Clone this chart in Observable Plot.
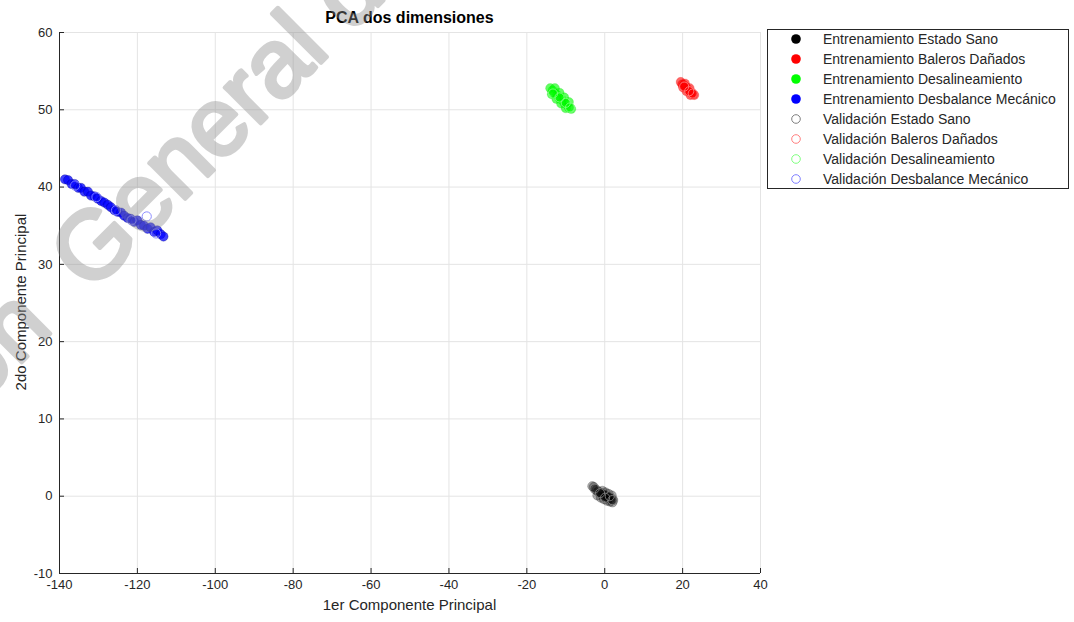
<!DOCTYPE html>
<html>
<head>
<meta charset="utf-8">
<script src="https://cdn.jsdelivr.net/npm/d3@7"></script>
<script src="https://cdn.jsdelivr.net/npm/@observablehq/plot@0.6"></script>
<style>
  body { margin: 0; background: #fff; font-family: "Liberation Sans", Arial, Helvetica, sans-serif; }
  #wrap { position: relative; width: 1074px; height: 622px; overflow: hidden; background: #fff; }
  #chart { position: absolute; left: 0; top: 0; }
  #title { position: absolute; left: 59px; width: 701px; top: 10px; text-align: center; font-weight: bold; font-size: 16px; line-height: 16px; color: #000; }
  #xlabel { position: absolute; left: 59px; width: 701px; top: 597px; text-align: center; font-size: 15px; line-height: 16px; color: #262626; }
  #ylabel { position: absolute; left: 21px; top: 302px; width: 300px; margin-left: -150px; margin-top: -8px; text-align: center; font-size: 15px; line-height: 16px; color: #262626; transform: rotate(-90deg); }
  #legend { position: absolute; left: 767px; top: 29px; width: 302px; height: 160px; box-sizing: border-box; border: 1px solid #262626; background: #fff; }
  .row { position: absolute; left: 0; height: 20px; width: 300px; }
  .row svg { position: absolute; left: 22px; top: 4px; }
  .row span { position: absolute; left: 55px; top: 0; line-height: 20px; font-size: 14px; color: #262626; white-space: nowrap; }
  #wm { position: absolute; left: 0; top: 0; pointer-events: none; }
</style>
</head>
<body>
<div id="wrap">
  <div id="chart"></div>
  <div id="title"></div>
  <div id="xlabel"></div>
  <div id="ylabel"></div>
  <div id="legend"></div>
  <svg id="wm" width="1074" height="622"></svg>
</div>
<script>
// ---- tick values ----
const xTicks = [-140, -120, -100, -80, -60, -40, -20, 0, 20, 40];
const yTicks = [-10, 0, 10, 20, 30, 40, 50, 60];

// ---- labels ----
const titleText = "PCA dos dimensiones";
const xLabelText = "1er Componente Principal";
const yLabelText = "2do Componente Principal";
const seriesNames = [
  "Entrenamiento Estado Sano",
  "Entrenamiento Baleros Dañados",
  "Entrenamiento Desalineamiento",
  "Entrenamiento Desbalance Mecánico",
  "Validación Estado Sano",
  "Validación Baleros Dañados",
  "Validación Desalineamiento",
  "Validación Desbalance Mecánico"
];
const watermarkBefore = "Dirección";
const watermarkAfter = "General de Bibliotecas";

// ---- series values ----
const trainSanoX = [-3.2, -2.8, -2.5, -2.1, -1.7, -1.3, -0.9, -0.5, -0.1, 0.3, 0.7, 1.1, 1.5, 1.9, 2.2, -1.9, -1.0, -0.2, 0.6, 1.4, 2.0, -0.6, 0.2, 1.0, 1.8];
const trainSanoY = [1.3, 1.2, 0.9, 0.8, 0.6, 0.5, 0.3, 0.2, 0.1, 0.0, -0.1, -0.2, -0.3, -0.4, -0.5, 0.1, -0.2, -0.4, -0.6, -0.7, -0.8, 0.7, 0.5, 0.3, 0.1];

const trainBalerosX = [19.5, 19.9, 20.3, 20.7, 21.1, 21.5, 21.9, 22.3, 22.7, 23.0, 20.1, 21.0, 22.0, 20.6, 21.8];
const trainBalerosY = [53.6, 53.3, 53.2, 52.9, 52.8, 52.5, 52.3, 52.2, 52.0, 51.9, 52.9, 52.4, 51.9, 53.4, 52.8];

const trainDesalX = [-14.0, -13.4, -12.8, -12.2, -11.6, -11.0, -10.4, -9.8, -9.2, -8.6, -12.8, -11.6, -10.4, -9.2, -13.6, -12.4, -11.2, -10.0];
const trainDesalY = [52.8, 52.5, 52.1, 51.9, 51.5, 51.3, 50.9, 50.7, 50.3, 50.1, 52.8, 52.2, 51.6, 51.0, 52.0, 51.4, 50.8, 50.2];

const trainDesbX = [-138.6, -137.8, -136.9, -136.1, -135.2, -134.5, -133.6, -132.7, -131.9, -131.0, -130.2, -129.3, -128.5, -127.6, -126.8, -125.9, -125.1, -124.2, -123.4, -122.5, -121.7, -120.8, -120.0, -119.1, -118.3, -117.4, -116.6, -115.7, -114.9, -114.0, -113.3];
const trainDesbY = [41.0, 40.9, 40.4, 40.4, 39.9, 39.9, 39.4, 39.4, 38.9, 38.8, 38.5, 38.2, 38.0, 37.7, 37.4, 37.0, 36.8, 36.7, 36.3, 36.0, 35.9, 35.5, 35.7, 35.1, 35.0, 34.6, 34.8, 34.2, 34.4, 33.9, 33.6];

const valSanoX = [-2.6, -1.2, 0.1, 1.3, 2.0];
const valSanoY = [1.0, 0.4, -0.2, 0.0, -0.5];

const valBalerosX = [20.4, 21.7, 22.6];
const valBalerosY = [53.0, 52.4, 52.1];

const valDesalX = [-13.3, -11.6, -10.0, -8.9];
const valDesalY = [52.1, 51.6, 50.9, 50.3];

const valDesbX = [-136.0, -130.5, -125.5, -121.5, -117.6, -115.2];
const valDesbY = [40.2, 38.7, 37.0, 35.7, 36.2, 34.0];

// ---- colours ----
const trainColors = ["#000000", "#ff0000", "#00ff00", "#0000ff"];
const trainEdges = ["#000000", "#e00000", "#00c000", "#000080"];
const trainAlpha = [0.32, 0.6, 0.62, 0.75];
const trainEdgeAlpha = [0.3, 0.25, 0.25, 0.45];
const valColors = ["#808080", "#ff8080", "#80ff80", "#8080ff"];

const seriesX = [trainSanoX, trainBalerosX, trainDesalX, trainDesbX, valSanoX, valBalerosX, valDesalX, valDesbX];
const seriesY = [trainSanoY, trainBalerosY, trainDesalY, trainDesbY, valSanoY, valBalerosY, valDesalY, valDesbY];

const rowsFor = (k) => seriesX[k].map((x, i) => ({x, y: seriesY[k][i], s: seriesNames[k]}));

const marks = [
  Plot.gridX(xTicks, {stroke: "#e4e4e4", strokeOpacity: 1}),
  Plot.gridY(yTicks, {stroke: "#e4e4e4", strokeOpacity: 1})
];
for (let k = 0; k < 4; k++) {
  marks.push(Plot.dot(rowsFor(k), {x: "x", y: "y", r: 4.6, fill: trainColors[k], fillOpacity: trainAlpha[k], stroke: trainEdges[k], strokeOpacity: trainEdgeAlpha[k], strokeWidth: 0.7}));
}
for (let k = 0; k < 4; k++) {
  marks.push(Plot.dot(rowsFor(k + 4), {x: "x", y: "y", r: 4.6, fill: "none", stroke: valColors[k], strokeWidth: 0.9}));
}
marks.push(
  Plot.ruleX([xTicks[0]], {stroke: "#262626", strokeWidth: 1}),
  Plot.ruleY([yTicks[0]], {stroke: "#262626", strokeWidth: 1}),
  Plot.ruleX(xTicks, {y1: yTicks[0], y2: yTicks[0], insetTop: -5, stroke: "#262626"}),
  Plot.ruleY(yTicks, {x1: xTicks[0], x2: xTicks[0], insetRight: -5, stroke: "#262626"}),
  Plot.axisX({ticks: xTicks, tickSize: 0, tickPadding: 6, tickFormat: (d) => String(d), fontSize: 13, color: "#262626", label: null}),
  Plot.axisY({ticks: yTicks, tickSize: 0, tickPadding: 7, tickFormat: (d) => String(d), fontSize: 13, color: "#262626", label: null})
);

const chart = Plot.plot({
  width: 1074,
  height: 622,
  marginLeft: 59,
  marginRight: 314,
  marginTop: 32,
  marginBottom: 49,
  x: {domain: [xTicks[0], xTicks[xTicks.length - 1]]},
  y: {domain: [yTicks[0], yTicks[yTicks.length - 1]]},
  style: {fontFamily: "Liberation Sans, Arial, sans-serif", background: "transparent", overflow: "visible"},
  marks
});
document.getElementById("chart").appendChild(chart);

document.getElementById("title").textContent = titleText;
document.getElementById("xlabel").textContent = xLabelText;
document.getElementById("ylabel").textContent = yLabelText;

// ---- legend ----
const legend = document.getElementById("legend");
seriesNames.forEach((name, i) => {
  const row = document.createElement("div");
  row.className = "row";
  row.style.top = (-1.5 + 20 * i) + "px";
  const train = i < 4;
  const c = train ? trainColors[i] : valColors[i - 4];
  row.innerHTML = `<svg width="12" height="12"><circle cx="6" cy="6" r="${train ? 4.8 : 4.3}" fill="${train ? c : "none"}" stroke="${c}" stroke-width="${train ? 0 : 1}"/></svg><span></span>`;
  row.querySelector("span").textContent = name;
  legend.appendChild(row);
});

// ---- watermark ----
const wm = d3.select("#wm");
const g = wm.append("g").attr("transform", "translate(90,294) rotate(-45)")
  .attr("fill", "#8c8c8c").attr("stroke", "#8c8c8c").attr("stroke-width", 4).attr("stroke-linejoin", "round")
  .attr("opacity", 0.4)
  .style("font-family", "Liberation Sans, Arial, sans-serif").style("font-size", "96px");
g.append("text").attr("x", -50).attr("y", 0).attr("text-anchor", "end").text(watermarkBefore);
g.append("text").attr("x", 0).attr("y", 0).attr("text-anchor", "start").text(watermarkAfter);
</script>
</body>
</html>
